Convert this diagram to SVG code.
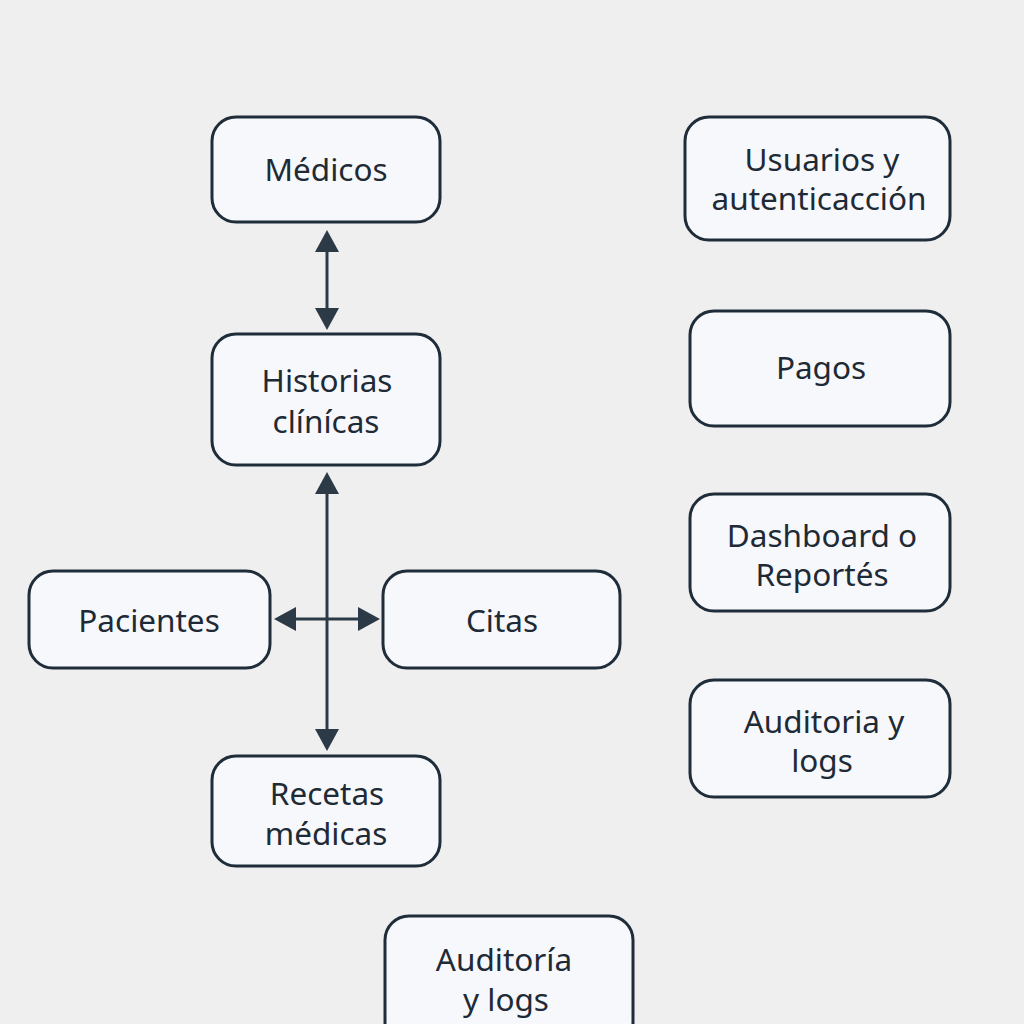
<svg xmlns="http://www.w3.org/2000/svg" width="1024" height="1024" viewBox="0 0 1024 1024">
<defs>
<style>
.box{fill:#f6f8fb;stroke:#1f2d3a;stroke-width:3}
.t{font-family:"Noto Sans","Liberation Sans",sans-serif;font-size:31.5px;fill:#1e2a36;text-anchor:middle}
.c{stroke:#2c3a47;stroke-width:3;fill:none}
</style>
</defs>
<rect width="1024" height="1024" fill="#efefef"/>
<g id="connectors">
<line class="c" x1="327" y1="240" x2="327" y2="318"/>
<path d="M315,252 L327,230 L339,252 z" fill="#2c3a47"/>
<path d="M315,308 L327,330 L339,308 z" fill="#2c3a47"/>
<line class="c" x1="327" y1="484" x2="327" y2="740"/>
<path d="M315,494 L327,472 L339,494 z" fill="#2c3a47"/>
<path d="M315,729 L327,751 L339,729 z" fill="#2c3a47"/>
<line class="c" x1="286" y1="619" x2="368" y2="619"/>
<path d="M296,607 L274,619 L296,631 z" fill="#2c3a47"/>
<path d="M358,607 L380,619 L358,631 z" fill="#2c3a47"/>
</g>
<g id="medicos"><rect class="box" x="212" y="117" width="228" height="105" rx="24"/><text class="t" x="326" y="181">Médicos</text></g>
<g id="usuarios"><rect class="box" x="685" y="117" width="265" height="123" rx="24"/><text class="t" x="822" y="171">Usuarios y</text><text class="t" x="819" y="210">autenticacción</text></g>
<g id="historias"><rect class="box" x="212" y="334" width="228" height="131" rx="24"/><text class="t" x="327" y="392">Historias</text><text class="t" x="326" y="433">clínícas</text></g>
<g id="pagos"><rect class="box" x="690" y="311" width="260" height="115" rx="24"/><text class="t" x="821" y="379">Pagos</text></g>
<g id="dashboard"><rect class="box" x="690" y="494" width="260" height="117" rx="24"/><text class="t" x="822" y="547">Dashboard o</text><text class="t" x="822" y="586">Reportés</text></g>
<g id="auditoria1"><rect class="box" x="690" y="680" width="260" height="117" rx="24"/><text class="t" x="824" y="733">Auditoria y</text><text class="t" x="822" y="772">logs</text></g>
<g id="pacientes"><rect class="box" x="29" y="571" width="241" height="97" rx="24"/><text class="t" x="149" y="632">Pacientes</text></g>
<g id="citas"><rect class="box" x="383" y="571" width="237" height="97" rx="24"/><text class="t" x="502" y="632">Citas</text></g>
<g id="recetas"><rect class="box" x="212" y="756" width="228" height="110" rx="24"/><text class="t" x="327" y="805">Recetas</text><text class="t" x="326" y="845">médicas</text></g>
<g id="auditoria2"><rect class="box" x="385" y="916" width="248" height="130" rx="24"/><text class="t" x="504" y="971">Auditoría</text><text class="t" x="506" y="1011">y logs</text></g>
</svg>
